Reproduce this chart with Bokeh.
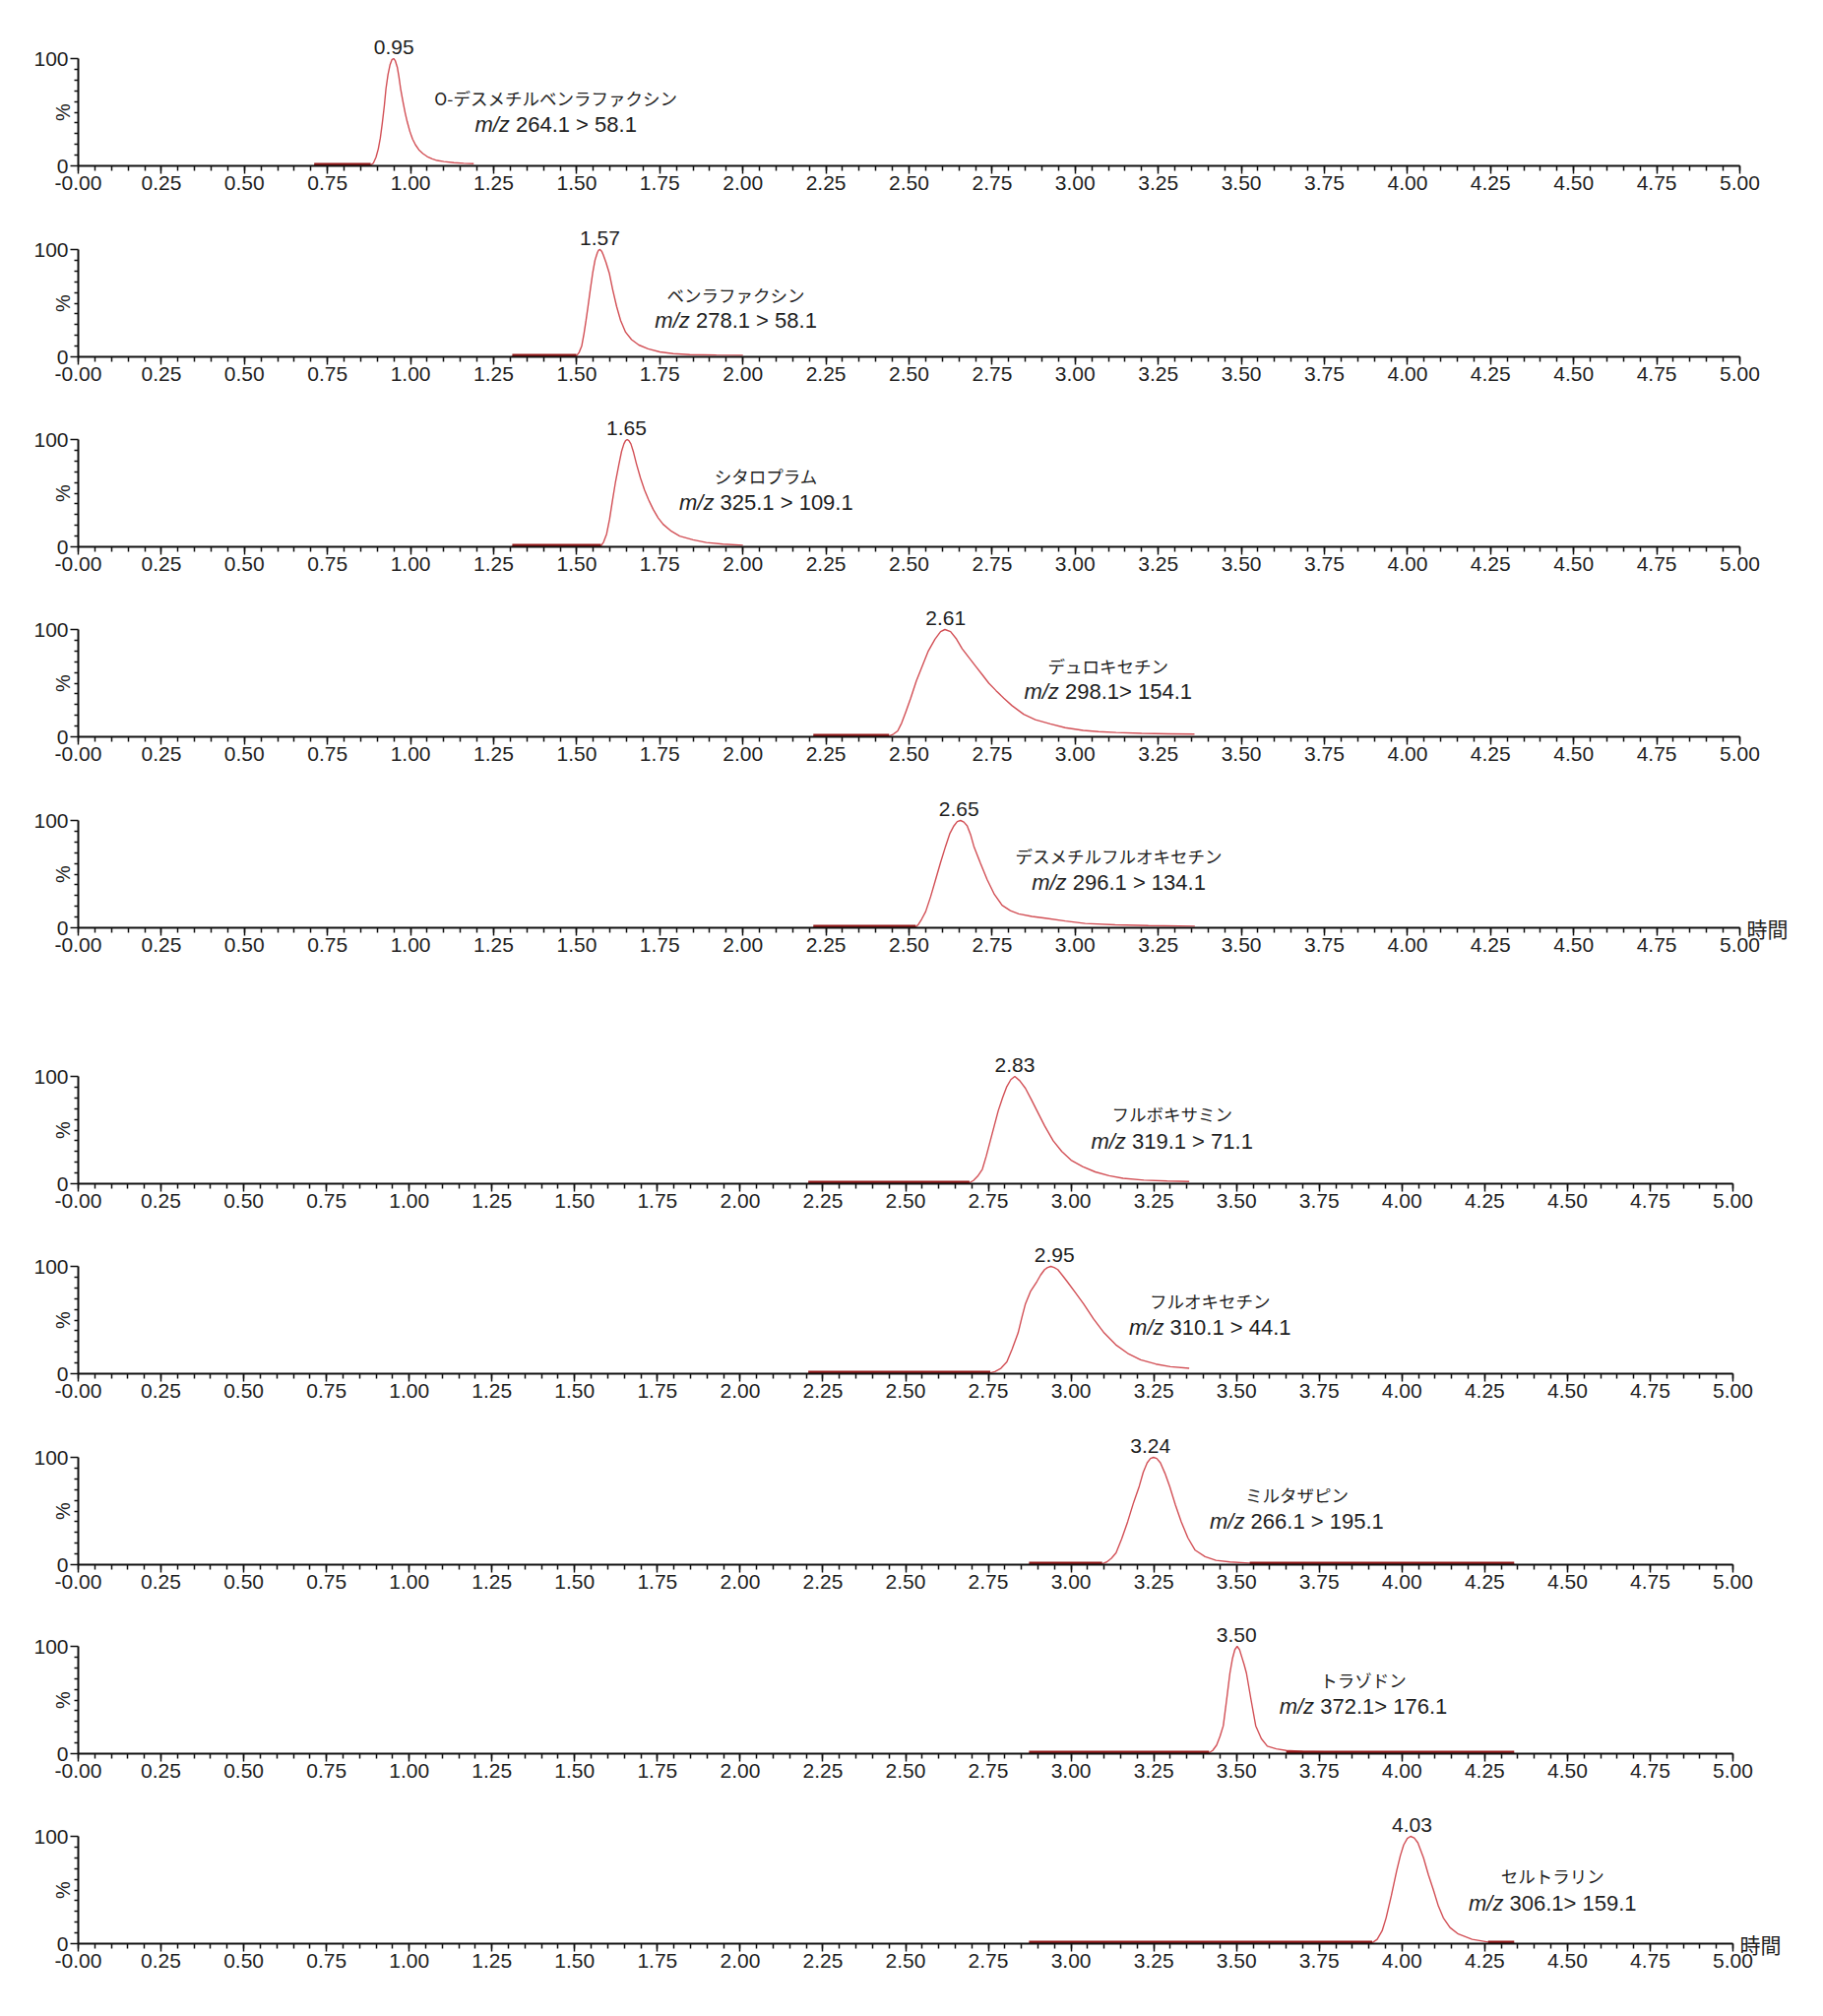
import math
from bokeh.plotting import figure
from bokeh.models import Range1d, FixedTicker, Spacer
from bokeh.layouts import column
from bokeh.embed import file_html
from bokeh.resources import INLINE
from bokeh.core.properties import value

# ---------------- data ----------------
RT = [0.95, 1.57, 1.65, 2.61, 2.65, 2.83, 2.95, 3.24, 3.50, 4.03]
RT_LABELS = ["0.95", "1.57", "1.65", "2.61", "2.65", "2.83", "2.95", "3.24", "3.50", "4.03"]
NAMES = ["O-デスメチルベンラファクシン", "ベンラファクシン", "シタロプラム", "デュロキセチン",
         "デスメチルフルオキセチン", "フルボキサミン", "フルオキセチン", "ミルタザピン",
         "トラゾドン", "セルトラリン"]
MZ_PREFIX = "m/z"
MZ = ["264.1 > 58.1", "278.1 > 58.1", "325.1 > 109.1", "298.1> 154.1", "296.1 > 134.1",
      "319.1 > 71.1", "310.1 > 44.1", "266.1 > 195.1", "372.1> 176.1", "306.1> 159.1"]
NAME_X = [1.437, 1.979, 2.07, 3.099, 3.131, 3.305, 3.42, 3.682, 3.883, 4.455]
NAME_Y = [63.3, 58.0, 66.0, 66.5, 67.0, 65.0, 67.6, 65.0, 68.9, 63.0]
MZ_Y = [38.8, 33.5, 41.5, 42.3, 41.9, 39.5, 43.2, 40.5, 44.3, 38.0]

T1 = [0.71, 0.80, 0.88, 0.888, 0.896, 0.903, 0.909, 0.915, 0.921, 0.926, 0.932, 0.938, 0.944,
      0.949, 0.954, 0.960, 0.965, 0.970, 0.977, 0.984, 0.990, 0.998, 1.006, 1.015, 1.025, 1.037,
      1.05, 1.065, 1.08, 1.10, 1.13, 1.16, 1.19]
I1 = [0.5, 0.5, 0.8, 2.5, 8, 16, 26, 40, 56, 72, 85, 94, 99, 100, 98, 92, 83, 72, 60, 49, 41, 32,
      25, 19.5, 15, 11.5, 8.7, 6.5, 5, 4, 3, 2.4, 2]
T2 = [1.306, 1.40, 1.499, 1.507, 1.515, 1.522, 1.528, 1.534, 1.541, 1.548, 1.555, 1.562, 1.566,
      1.570, 1.575, 1.580, 1.588, 1.598, 1.608, 1.62, 1.632, 1.647, 1.665, 1.687, 1.715, 1.75,
      1.79, 1.84, 1.92, 2.0]
I2 = [0.5, 0.5, 0.8, 4, 10, 22, 34, 47, 63, 78, 90, 97, 99.5, 100, 98.5, 95, 88, 78, 63, 47, 34,
      23, 16, 11, 7.5, 4.6, 3, 2, 1.7, 1.5]
T3 = [1.306, 1.45, 1.573, 1.581, 1.59, 1.599, 1.608, 1.617, 1.627, 1.635, 1.642, 1.647, 1.652,
      1.657, 1.663, 1.671, 1.68, 1.692, 1.704, 1.716, 1.73, 1.745, 1.76, 1.785, 1.81, 1.85, 1.89,
      1.94, 2.0]
I3 = [0.5, 0.5, 0.8, 4.5, 12, 26, 44, 61, 77, 89, 96, 99, 100, 99, 96, 88, 77, 64, 53, 44, 35,
      27, 21, 14.5, 10, 6.5, 4, 2.5, 1.5]
T4 = [2.212, 2.33, 2.44, 2.453, 2.466, 2.478, 2.49, 2.505, 2.522, 2.54, 2.558, 2.578, 2.595,
      2.608, 2.625, 2.643, 2.66, 2.68, 2.70, 2.72, 2.74, 2.762, 2.785, 2.81, 2.845, 2.88, 2.925,
      2.97, 3.024, 3.07, 3.123, 3.2, 3.28, 3.359]
I4 = [0.5, 0.5, 0.8, 2.5, 5.5, 13, 23, 36, 52, 66, 80, 91, 98, 100, 98, 91, 82, 74, 66, 58, 50,
      43, 36, 29, 21, 16, 12, 8.5, 6, 4.8, 4, 3.2, 2.8, 2.5]
T5 = [2.212, 2.37, 2.52, 2.528, 2.538, 2.55, 2.565, 2.58, 2.595, 2.61, 2.623, 2.635, 2.645, 2.655,
      2.665, 2.675, 2.685, 2.695, 2.715, 2.735, 2.757, 2.78, 2.805, 2.83, 2.87, 2.91, 2.97, 3.03,
      3.12, 3.22, 3.36]
I5 = [0.5, 0.5, 0.8, 3, 8, 15, 29, 45, 61, 76, 88, 95, 99, 100, 98.5, 95, 87, 76, 60, 45, 31, 21,
      16, 13, 10.5, 9, 6.3, 4, 2.7, 2, 1.5]
T6 = [2.206, 2.45, 2.693, 2.705, 2.718, 2.732, 2.744, 2.756, 2.768, 2.78, 2.793, 2.805, 2.818,
      2.83, 2.845, 2.862, 2.879, 2.897, 2.92, 2.946, 2.972, 3.0, 3.035, 3.073, 3.115, 3.157, 3.22,
      3.29, 3.357]
I6 = [0.5, 0.5, 0.8, 3, 7, 13.5, 26, 40, 54, 68, 80, 90, 97, 100, 96, 89, 79, 68, 54, 40, 30, 22,
      16, 11, 7.5, 5, 3.3, 2.5, 2]
T7 = [2.206, 2.48, 2.756, 2.77, 2.788, 2.806, 2.822, 2.84, 2.851, 2.862, 2.878, 2.897, 2.908,
      2.92, 2.929, 2.939, 2.949, 2.96, 2.973, 2.988, 3.012, 3.038, 3.068, 3.10, 3.135, 3.171, 3.21,
      3.256, 3.30, 3.357]
I7 = [0.5, 0.5, 0.8, 2, 5, 11, 23, 38, 52, 65, 77, 86, 92, 97, 99, 100, 99, 97, 92, 86, 76, 65,
      51, 38, 27, 19, 13, 9, 6.5, 5]
T8 = [2.873, 3.0, 3.094, 3.108, 3.122, 3.136, 3.153, 3.171, 3.188, 3.206, 3.218, 3.23, 3.24,
      3.249, 3.259, 3.27, 3.284, 3.298, 3.315, 3.333, 3.353, 3.375, 3.405, 3.438, 3.48, 3.537,
      3.60, 4.339]
I8 = [0.5, 0.5, 0.8, 2.5, 6, 11, 24, 40, 57, 73, 86, 95, 99, 100, 99, 95, 85, 73, 56, 40, 25,
      13.5, 7.5, 4, 2.5, 1.5, 0.8, 0.5]
T9 = [2.873, 3.15, 3.417, 3.428, 3.44, 3.45, 3.46, 3.47, 3.48, 3.488, 3.495, 3.502, 3.509, 3.516,
      3.523, 3.53, 3.544, 3.558, 3.575, 3.593, 3.62, 3.65, 3.70, 3.80, 4.339]
I9 = [0.5, 0.5, 0.8, 3, 8, 16, 26, 50, 75, 89, 97, 100, 97, 90, 83, 75, 50, 26, 14, 7, 4.5, 3, 2,
      1.5, 0.5]
T10 = [2.873, 3.40, 3.91, 3.925, 3.94, 3.952, 3.968, 3.984, 3.995, 4.005, 4.016, 4.026, 4.037,
       4.048, 4.065, 4.08, 4.095, 4.11, 4.125, 4.145, 4.17, 4.212, 4.26, 4.339]
I10 = [0.5, 0.5, 0.8, 4, 12, 24, 45, 68, 82, 92, 98, 100, 98.5, 94, 80, 64, 50, 35, 24, 15, 9, 4,
       1.5, 0.5]
TIMES = [T1, T2, T3, T4, T5, T6, T7, T8, T9, T10]
INTENS = [I1, I2, I3, I4, I5, I6, I7, I8, I9, I10]

# flat (dark) baseline stretches of each trace
BASE_START = [[0.71], [1.306], [1.306], [2.212], [2.212], [2.206], [2.206],
              [2.873, 3.54], [2.873, 3.65], [2.873, 4.26]]
BASE_END = [[0.88], [1.499], [1.573], [2.44], [2.52], [2.693], [2.756],
            [3.094, 4.339], [3.417, 4.339], [3.91, 4.339]]
BASE_LEVEL = 1.5

XTICKS = [0.0, 0.25, 0.5, 0.75, 1.0, 1.25, 1.5, 1.75, 2.0, 2.25, 2.5, 2.75, 3.0, 3.25, 3.5,
          3.75, 4.0, 4.25, 4.5, 4.75, 5.0]
XTICK_LABELS = ["-0.00", "0.25", "0.50", "0.75", "1.00", "1.25", "1.50", "1.75", "2.00", "2.25",
                "2.50", "2.75", "3.00", "3.25", "3.50", "3.75", "4.00", "4.25", "4.50", "4.75",
                "5.00"]
XMINOR = [round(0.05 * i, 2) for i in range(101)]
YTICKS = [0, 100]
YTICK_LABELS = ["0", "100"]
YMINOR = [10, 20, 30, 40, 50, 60, 70, 80, 90]
Y_LABEL = "%"
X_UNIT = "時間"

# ---------------- layout / style (pixels) ----------------
AXIS_Y = [168, 362, 555, 748, 942, 1202, 1395, 1589, 1781, 1974]   # y of the 0-line
X0_PX = 79                                                      # x of t = 0
X5_PX = [1767, 1767, 1767, 1767, 1767, 1760, 1760, 1760, 1760, 1760]  # x of t = 5
PLOT_H = 109          # 0..100 %
BELOW = 36            # figure space below the 0-line
GROUP_HEAD = 48       # figure space above 100 % for the first panel of a group
LABEL_GAP = 12        # px between peak apex and its label anchor
FIG_W = 1848

PEAK_COLOR = "#d24f55"
BASE_COLOR = "#961b1b"
TXT = "#1e1e1e"
AX = "#111111"
LATIN = "Liberation Sans"
CJK = "Noto Sans CJK JP"

ARIAL_W = {'0': 556, '1': 556, '2': 556, '3': 556, '4': 556, '5': 556, '6': 556, '7': 556,
           '8': 556, '9': 556, '.': 278, ' ': 278, '>': 584, 'm': 833, '/': 278, 'z': 500}
MZ_SIZE = 22
NUM_SIZE = "21px"


def text_w(s, size):
    return sum(ARIAL_W.get(c, 556) for c in s) / 1000.0 * size


ppy = PLOT_H / 100.0

children = []
prev_bottom = 0
for k in range(10):
    if k == 5:
        top_wanted = AXIS_Y[k] - PLOT_H - GROUP_HEAD
        children.append(Spacer(width=FIG_W, height=top_wanted - prev_bottom))
        prev_bottom = top_wanted
    fig_top = prev_bottom
    fig_bottom = AXIS_Y[k] + BELOW
    H = fig_bottom - fig_top
    prev_bottom = fig_bottom
    ppx = (X5_PX[k] - X0_PX) / 5.0
    x_start = -X0_PX / ppx
    x_end = (FIG_W - X0_PX) / ppx
    y_start = -BELOW / ppy
    y_end = (AXIS_Y[k] - fig_top) / ppy
    p = figure(width=FIG_W, height=H, x_range=Range1d(x_start, x_end),
               y_range=Range1d(y_start, y_end),
               output_backend="svg", toolbar_location=None,
               min_border_left=0, min_border_right=0, min_border_top=0, min_border_bottom=0)
    p.outline_line_color = None
    p.grid.visible = False
    p.background_fill_color = "white"
    p.border_fill_color = "white"

    xa = p.xaxis[0]
    xa.fixed_location = 0
    xa.ticker = FixedTicker(ticks=XTICKS, minor_ticks=XMINOR)
    xa.major_label_overrides = {t: l for t, l in zip(XTICKS, XTICK_LABELS)}
    xa.bounds = (0, 5)
    xa.axis_line_width = 2
    xa.axis_line_color = AX
    xa.major_tick_out = 8
    xa.major_tick_in = 0
    xa.minor_tick_out = 5
    xa.minor_tick_in = 0
    xa.major_tick_line_width = 1.5
    xa.minor_tick_line_width = 1.5
    xa.major_tick_line_color = AX
    xa.minor_tick_line_color = AX
    xa.major_label_standoff = 2
    xa.major_label_text_font = LATIN
    xa.major_label_text_font_size = NUM_SIZE
    xa.major_label_text_color = TXT

    ya = p.yaxis[0]
    ya.fixed_location = 0
    ya.ticker = FixedTicker(ticks=YTICKS, minor_ticks=YMINOR)
    ya.major_label_overrides = {t: l for t, l in zip(YTICKS, YTICK_LABELS)}
    ya.bounds = (0, 100)
    ya.axis_line_width = 2
    ya.axis_line_color = AX
    ya.major_tick_out = 8
    ya.major_tick_in = 0
    ya.minor_tick_out = 4
    ya.minor_tick_in = 0
    ya.major_tick_line_width = 1.5
    ya.minor_tick_line_width = 1.5
    ya.major_tick_line_color = AX
    ya.minor_tick_line_color = AX
    ya.major_label_standoff = 2
    ya.major_label_text_font = LATIN
    ya.major_label_text_font_size = NUM_SIZE
    ya.major_label_text_color = TXT

    # trace
    p.line(TIMES[k], INTENS[k], line_color=PEAK_COLOR, line_width=1.4)
    for s, e in zip(BASE_START[k], BASE_END[k]):
        p.line([s, e], [BASE_LEVEL, BASE_LEVEL], line_color=BASE_COLOR, line_width=2.6)

    # peak label (apex is at 100 %)
    p.text(x=[RT[k]], y=[100 + LABEL_GAP / ppy], text=[RT_LABELS[k]], text_align="center",
           text_baseline="alphabetic", text_font=value(LATIN),
           text_font_size=NUM_SIZE, text_color=TXT)

    # compound name + transition
    p.text(x=[NAME_X[k]], y=[NAME_Y[k]], text=[NAMES[k]], text_align="center",
           text_baseline="middle", text_font=value(CJK), text_font_size="17.5px",
           text_color=TXT)
    w1 = text_w(MZ_PREFIX + " ", MZ_SIZE)
    w2 = text_w(MZ[k], MZ_SIZE)
    left = -(w1 + w2) / 2.0
    p.text(x=[NAME_X[k]], y=[MZ_Y[k]], text=[MZ_PREFIX], text_align="left",
           text_baseline="middle", x_offset=left, text_font=value(LATIN),
           text_font_style="italic", text_font_size=f"{MZ_SIZE}px", text_color=TXT)
    p.text(x=[NAME_X[k]], y=[MZ_Y[k]], text=[MZ[k]], text_align="left",
           text_baseline="middle", x_offset=left + w1, text_font=value(LATIN),
           text_font_size=f"{MZ_SIZE}px", text_color=TXT)

    # "%" y label, left of the y axis
    p.text(x=[0], y=[50], text=[Y_LABEL], x_offset=-16, angle=math.pi / 2,
           text_align="center", text_baseline="middle", text_font=value(LATIN),
           text_font_size="20px", text_color=TXT)
    if k in (4, 9):
        p.text(x=[5], y=[0], text=[X_UNIT], x_offset=7, text_align="left",
               text_baseline="middle", text_font=value(CJK), text_font_size="21px",
               text_color=TXT)
    children.append(p)

layout = column(*children, spacing=0)
open("out.html", "w").write(file_html(layout, INLINE))
